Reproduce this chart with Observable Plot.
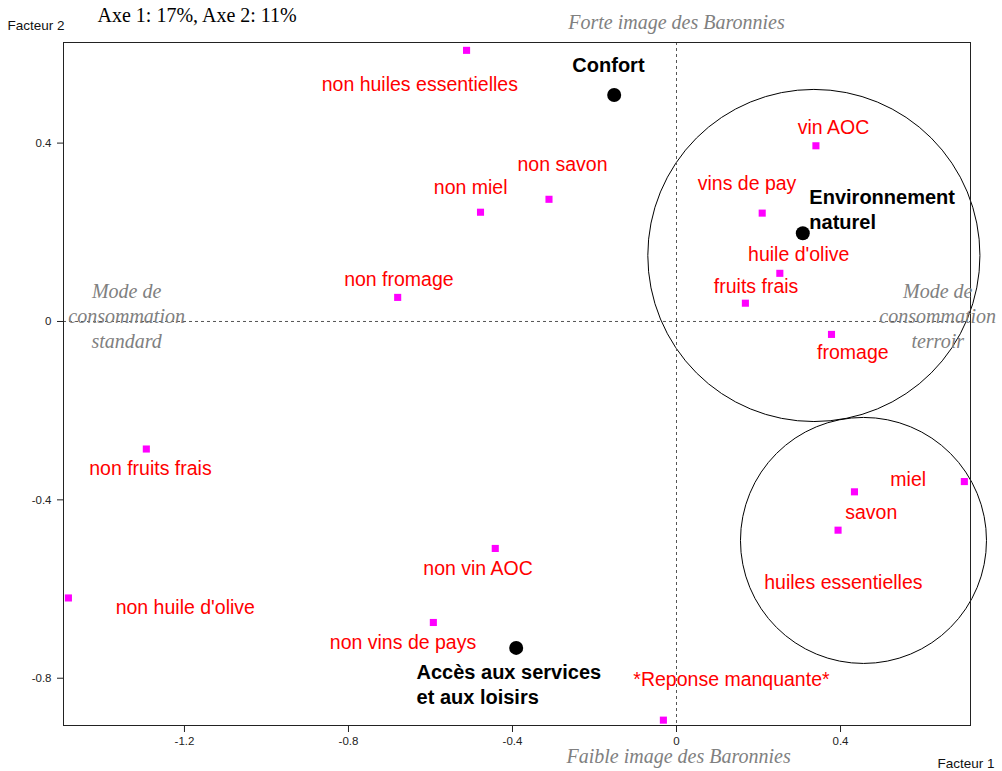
<!DOCTYPE html>
<html>
<head>
<meta charset="utf-8">
<script src="https://cdn.jsdelivr.net/npm/d3@7"></script>
<script src="https://cdn.jsdelivr.net/npm/@observablehq/plot@0.6"></script>
<style>
  body { margin: 0; background: #fff; }
  #chart svg { display: block; }
</style>
</head>
<body>
<div id="chart"></div>
<script>
// ---- Data ----
const categories = ["non huiles essentielles", "non miel", "non savon", "non fromage",
  "vin AOC", "vins de pay", "huile d'olive", "fruits frais", "fromage",
  "miel", "savon", "huiles essentielles", "non fruits frais", "non huile d'olive",
  "non vin AOC", "non vins de pays", "*Reponse manquante*"];
const catX = [-0.512, -0.478, -0.311, -0.680, 0.340, 0.209, 0.252, 0.168, 0.378,
  0.702, 0.434, 0.394, -1.293, -1.483, -0.442, -0.593, -0.032];
const catY = [0.608, 0.245, 0.274, 0.054, 0.394, 0.243, 0.108, 0.041, -0.029,
  -0.359, -0.382, -0.468, -0.286, -0.620, -0.509, -0.675, -0.894];
const catLabelX = [-0.626, -0.502, -0.278, -0.677, 0.383, 0.172, 0.298, 0.194, 0.430,
  0.565, 0.475, 0.407, -1.283, -1.198, -0.484, -0.667, 0.134];
const catLabelY = [0.530, 0.300, 0.351, 0.094, 0.435, 0.308, 0.149, 0.079, -0.070,
  -0.354, -0.430, -0.585, -0.331, -0.643, -0.554, -0.720, -0.804];

const groups = ["Confort", "Environnement\nnaturel", "Accès aux services\net aux loisirs"];
const groupX = [-0.152, 0.308, -0.391];
const groupY = [0.508, 0.198, -0.732];
const groupLabelX = [-0.166, 0.324, -0.634];
const groupLabelY = [0.573, 0.254, -0.811];

// circled clusters: centre and radius in Facteur 1 units
const clusterX = [0.335, 0.456];
const clusterY = [0.148, -0.491];
const clusterRadius = [0.405, 0.300];

const annotations = ["Forte image des Baronnies", "Faible image des Baronnies",
  "Mode de\nconsommation\nstandard", "Mode de\nconsommation\nterroir"];
const annX = [0, 0.005, -1.341, 0.637];
const annY = [0.674, -0.973, 0.014, 0.014];

const xTicks = [-1.2, -0.8, -0.4, 0, 0.4];
const yTicks = [0.4, 0, -0.4, -0.8];
const xDomain = [-1.495, 0.717];
const yDomain = [-0.906, 0.6256];

const titleText = "Axe 1: 17%, Axe 2: 11%";
const xLabel = "Facteur 1";
const yLabel = "Facteur 2";

// ---- Tables built from the arrays ----
const points = categories.map((c, i) => ({name: c, x: catX[i], y: catY[i], lx: catLabelX[i], ly: catLabelY[i]}));
const grp = groups.map((g, i) => ({name: g, x: groupX[i], y: groupY[i], lx: groupLabelX[i], ly: groupLabelY[i]}));
const clusters = clusterX.map((x, i) => ({x, y: clusterY[i], rad: clusterRadius[i]}));
const ann = annotations.map((t, i) => ({text: t, x: annX[i], y: annY[i]}));

const W = 1002, H = 771;
const mL = 63, mR = 32, mT = 42, mB = 46;
const pxPerX = (W - mL - mR) / (xDomain[1] - xDomain[0]);

const fmt = d => String(d);
const sans = "'Liberation Sans', Arial, sans-serif";
const serif = "'Liberation Serif', 'Times New Roman', serif";

const marks = [
  ...clusters.map(c => Plot.dot([c], {x: "x", y: "y", r: c.rad * pxPerX, stroke: "#000", strokeWidth: 1, fill: "none"})),
  Plot.ruleX([0], {stroke: "#555", strokeDasharray: "3,3"}),
  Plot.ruleY([0], {stroke: "#555", strokeDasharray: "3,3"}),
  Plot.frame({stroke: "#222"}),
  Plot.text(ann, {x: "x", y: "y", text: "text", fill: "#808080", fontSize: 20, fontStyle: "italic",
    fontFamily: serif, lineHeight: 1.25}),
  Plot.dot(points, {x: "x", y: "y", symbol: "square", r: 4, fill: "#ff00ff"}),
  Plot.text(points, {x: "lx", y: "ly", text: "name", fill: "#ff0000", fontSize: 19.5, fontFamily: sans}),
  Plot.dot(grp, {x: "x", y: "y", r: 7, fill: "#000"}),
  Plot.text(grp.filter(d => d.name === "Confort"), {x: "lx", y: "ly", text: "name", fill: "#000",
    fontSize: 20, fontWeight: "bold", fontFamily: sans}),
  Plot.text(grp.filter(d => d.name !== "Confort"), {x: "lx", y: "ly", text: "name", fill: "#000",
    fontSize: 20, fontWeight: "bold", fontFamily: sans, textAnchor: "start", lineHeight: 1.25}),
  Plot.text([titleText], {frameAnchor: "top-left", lineAnchor: "middle", dx: 97 - mL, dy: 15 - mT, text: d => d, fill: "#000",
    fontSize: 20, fontFamily: serif, textAnchor: "start"}),
  Plot.text([yLabel], {frameAnchor: "top-left", lineAnchor: "middle", dx: 7 - mL, dy: 25 - mT, text: d => d, fill: "#111",
    fontSize: 13.5, fontFamily: sans, textAnchor: "start"}),
  Plot.text([xLabel], {frameAnchor: "bottom-right", lineAnchor: "middle", dx: 937 - (W - mR), dy: 763 - (H - mB), text: d => d, fill: "#111",
    fontSize: 13.5, fontFamily: sans, textAnchor: "start"})
];

const chart = Plot.plot({
  width: W,
  height: H,
  marginLeft: mL,
  marginRight: mR,
  marginTop: mT,
  marginBottom: mB,
  style: {fontSize: "11.5px", fontFamily: sans, color: "#222", background: "#fff", overflow: "visible"},
  x: {domain: xDomain, ticks: xTicks, tickFormat: fmt, tickSize: 7, tickPadding: 4, label: null},
  y: {domain: yDomain, ticks: yTicks, tickFormat: fmt, tickSize: 6, tickPadding: 6, label: null},
  marks
});
document.getElementById("chart").appendChild(chart);
</script>
</body>
</html>
